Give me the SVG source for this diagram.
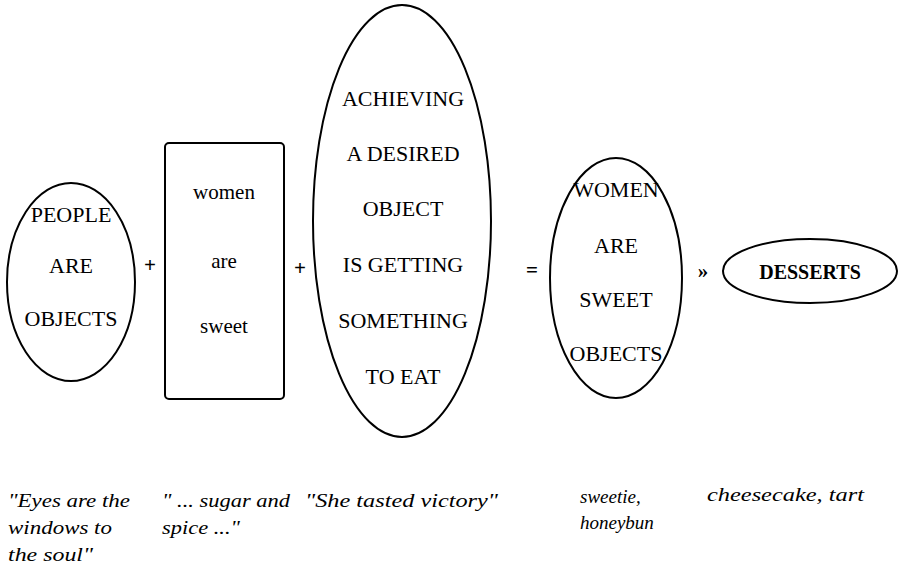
<svg xmlns="http://www.w3.org/2000/svg" width="903" height="588" viewBox="0 0 903 588">
<defs>
<style>
.shape{fill:none;stroke:#000;stroke-width:2}
</style>
</defs>
<rect width="903" height="588" fill="#fff"/>
<g id="people-are-objects" text-anchor="middle">
<ellipse class="shape" cx="71" cy="282" rx="64" ry="99"/>
<text font-family="Liberation Serif, serif" font-size="22" x="71" y="222">PEOPLE</text>
<text font-family="Liberation Serif, serif" font-size="22" x="71" y="273">ARE</text>
<text font-family="Liberation Serif, serif" font-size="22" x="71" y="326">OBJECTS</text>
</g>
<g id="women-are-sweet" text-anchor="middle">
<rect class="shape" x="165" y="143" width="119" height="256" rx="4"/>
<text font-family="Liberation Serif, serif" font-size="21" x="224" y="199">women</text>
<text font-family="Liberation Serif, serif" font-size="21" x="224" y="268">are</text>
<text font-family="Liberation Serif, serif" font-size="21" x="224" y="333">sweet</text>
</g>
<g id="achieving" text-anchor="middle">
<ellipse class="shape" cx="402" cy="221" rx="89" ry="216"/>
<text font-family="Liberation Serif, serif" font-size="22" x="403" y="106">ACHIEVING</text>
<text font-family="Liberation Serif, serif" font-size="22" x="403" y="161">A DESIRED</text>
<text font-family="Liberation Serif, serif" font-size="22" x="403" y="216">OBJECT</text>
<text font-family="Liberation Serif, serif" font-size="22" x="403" y="272">IS GETTING</text>
<text font-family="Liberation Serif, serif" font-size="22" x="403" y="328">SOMETHING</text>
<text font-family="Liberation Serif, serif" font-size="22" x="403" y="384">TO EAT</text>
</g>
<g id="women-sweet-objects" text-anchor="middle">
<ellipse class="shape" cx="616" cy="278" rx="66" ry="120"/>
<text font-family="Liberation Serif, serif" font-size="22" x="616" y="197">WOMEN</text>
<text font-family="Liberation Serif, serif" font-size="22" x="616" y="253">ARE</text>
<text font-family="Liberation Serif, serif" font-size="22" x="616" y="307">SWEET</text>
<text font-family="Liberation Serif, serif" font-size="22" x="616" y="361">OBJECTS</text>
</g>
<g id="desserts" text-anchor="middle">
<ellipse class="shape" cx="810" cy="271" rx="87" ry="32"/>
<text font-family="Liberation Serif, serif" font-size="20" font-weight="bold" x="810" y="279">DESSERTS</text>
</g>
<g id="connectors" text-anchor="middle">
<text font-family="Liberation Serif, serif" font-size="21" font-weight="bold" x="150" y="272">+</text>
<text font-family="Liberation Serif, serif" font-size="21" font-weight="bold" x="300" y="275">+</text>
<text font-family="Liberation Serif, serif" font-size="21" font-weight="bold" x="532" y="277">=</text>
<text font-family="Liberation Serif, serif" font-size="21" font-weight="bold" x="703" y="278">»</text>
</g>
<g id="examples">
<text font-family="Liberation Serif, serif" font-style="italic" font-size="19" x="8" y="507" textLength="122" lengthAdjust="spacingAndGlyphs">"Eyes are the</text>
<text font-family="Liberation Serif, serif" font-style="italic" font-size="19" x="8" y="534" textLength="104" lengthAdjust="spacingAndGlyphs">windows to</text>
<text font-family="Liberation Serif, serif" font-style="italic" font-size="19" x="8" y="561" textLength="85" lengthAdjust="spacingAndGlyphs">the soul"</text>
<text font-family="Liberation Serif, serif" font-style="italic" font-size="19" x="162" y="507" textLength="128" lengthAdjust="spacingAndGlyphs">" ... sugar and</text>
<text font-family="Liberation Serif, serif" font-style="italic" font-size="19" x="162" y="534" textLength="78" lengthAdjust="spacingAndGlyphs">spice ..."</text>
<text font-family="Liberation Serif, serif" font-style="italic" font-size="19" x="305" y="507" textLength="193" lengthAdjust="spacingAndGlyphs">"She tasted victory"</text>
<text font-family="Liberation Serif, serif" font-style="italic" font-size="19" x="580" y="503">sweetie,</text>
<text font-family="Liberation Serif, serif" font-style="italic" font-size="19" x="580" y="529">honeybun</text>
<text font-family="Liberation Serif, serif" font-style="italic" font-size="19" x="707" y="501" textLength="157" lengthAdjust="spacingAndGlyphs">cheesecake, tart</text>
</g>
</svg>
